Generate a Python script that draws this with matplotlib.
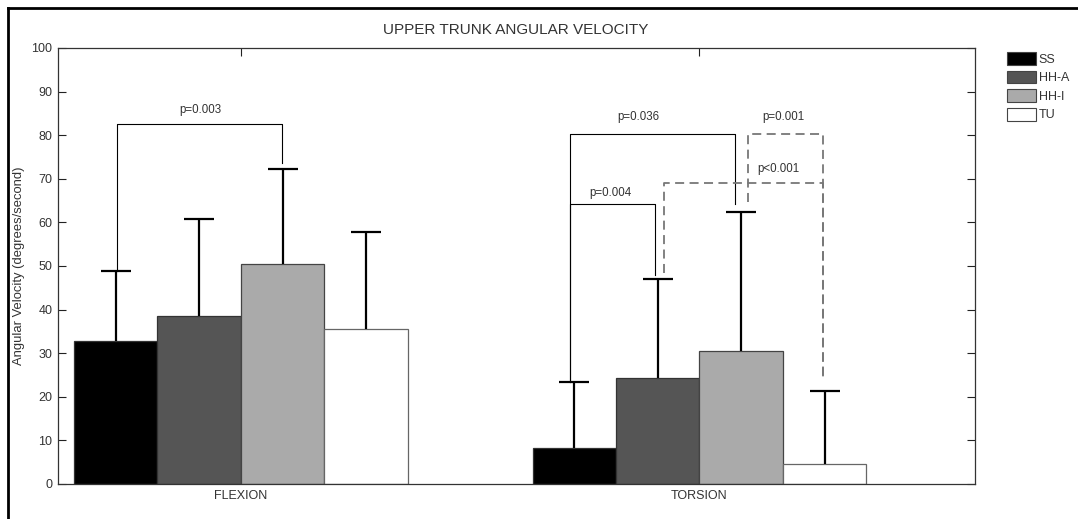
import matplotlib
matplotlib.use("Agg")
import matplotlib.pyplot as plt
from matplotlib.lines import Line2D
from matplotlib.patches import Patch
import numpy as np

plt.rcParams['font.family'] = ['Liberation Sans', 'DejaVu Sans']

# ---- data ----
groups = ["FLEXION", "TORSION"]
series = ["SS", "HH-A", "HH-I", "TU"]
colors = ["#000000", "#555555", "#aaaaaa", "#ffffff"]
edgecolors = ["#333333", "#333333", "#444444", "#666666"]
means = {
    "SS":   [32.8, 8.3],
    "HH-A": [38.6, 24.3],
    "HH-I": [50.4, 30.6],
    "TU":   [35.5, 4.7],
}
err_top = {
    "SS":   [48.8, 23.5],
    "HH-A": [60.7, 47.0],
    "HH-I": [72.2, 62.5],
    "TU":   [57.7, 21.3],
}
yticks = list(range(0, 101, 10))
title = "UPPER TRUNK ANGULAR VELOCITY"
ylabel = "Angular Velocity (degrees/second)"

# significance brackets: group, left series, right series, bracket height,
# left leg bottom, right leg bottom, label, label x, label y, dashed
brackets = [
    (0, 0, 2, 82.6, 48.8, 73.6, "p=0.003", 0.911, 85.8, False),
    (1, 0, 2, 80.3, 23.5, 64.2, "p=0.036", 1.866, 84.2, False),
    (1, 0, 1, 64.2, 23.5, 48.0, "p=0.004", 1.805, 66.7, False),
    (1, 1, 3, 69.0, 48.4, 23.8, "p<0.001", 2.171, 72.2, True),
    (1, 2, 3, 80.3, 64.7, 23.8, "p=0.001", 2.182, 84.2, True),
]
# small horizontal shifts of bracket legs (data units) relative to bar centres
leg_shift = [
    (0.002, -0.002),
    (-0.009, -0.013),
    (-0.009, -0.005),
    (0.014, -0.003),
    (0.014, -0.003),
]

# ---- figure ----
fig = plt.figure(figsize=(10.78, 5.19), dpi=100)
ax = fig.add_axes([58 / 1078, 35 / 519, 917 / 1078, 436 / 519])

x = np.arange(1, len(groups) + 1)
w = 0.182
cap = 0.065
offsets = (np.arange(len(series)) - 1.5) * w
tc = "#333333"

for k, s in enumerate(series):
    xs = x + offsets[k]
    m = np.array(means[s])
    t = np.array(err_top[s])
    ax.bar(xs, m, width=w, color=colors[k], edgecolor=edgecolors[k],
           linewidth=0.9, label=s, zorder=2)
    # upper-only error bars
    ax.vlines(xs, m, t, colors='black', linewidth=1.6, zorder=3)
    ax.hlines(t, xs - cap / 2, xs + cap / 2, colors='black', linewidth=1.6,
              zorder=3)

for (g, i, j, h, lb, rb, lab, lx, ly, dashed), (sl, sr) in zip(brackets, leg_shift):
    xl = x[g] + offsets[i] + sl
    xr = x[g] + offsets[j] + sr
    if dashed:
        kw = dict(color="#777777", lw=1.3, ls=(0, (5, 3)))
    else:
        kw = dict(color="black", lw=0.8)
    ax.plot([xl, xl, xr, xr], [lb, h, h, rb], zorder=4, **kw)
    ax.text(lx, ly, lab, ha='center', va='center', fontsize=8.3, color=tc)

ax.set_xlim(0.601, 2.601)
ax.set_ylim(0, 100)
ax.set_yticks(yticks)
ax.set_xticks(x)
ax.set_xticklabels(groups)
ax.tick_params(direction='in', length=5.8, width=0.8, top=True, right=True,
               labelsize=9, labelcolor=tc, color='#222222', pad=4)
for sp in ax.spines.values():
    sp.set_linewidth(0.9)
    sp.set_color('#333333')

fig.text(516 / 1078, 1 - 30 / 519, title, ha='center', va='center',
         fontsize=11, color=tc)
fig.text(19 / 1078, 1 - 266 / 519, ylabel, ha='center', va='center',
         rotation=90, fontsize=9.4, color=tc)

handles = [Patch(facecolor=colors[k], edgecolor='#444444', linewidth=0.8)
           for k in range(len(series))]
fig.legend(handles, series, loc='upper left',
           bbox_to_anchor=(1007 / 1078, 1 - 52 / 519), frameon=False,
           fontsize=9, handlelength=2.3, handleheight=1.2, labelspacing=0.4,
           handletextpad=0.25, borderpad=0, borderaxespad=0, labelcolor=tc)

# figure border (left and top edges)
fig.add_artist(Line2D([7.5 / 1078, 7.5 / 1078], [0, 1 - 7.5 / 519],
                      transform=fig.transFigure, color='black', lw=2))
fig.add_artist(Line2D([7.5 / 1078, 1], [1 - 7.5 / 519, 1 - 7.5 / 519],
                      transform=fig.transFigure, color='black', lw=2))

fig.savefig("out.png", dpi=100)
